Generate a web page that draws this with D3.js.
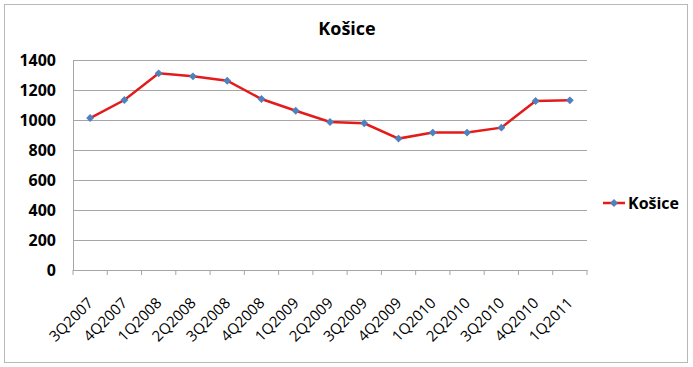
<!DOCTYPE html>
<html>
<head>
<meta charset="utf-8">
<script src="https://cdn.jsdelivr.net/npm/d3@7"></script>
<style>
  body { margin: 0; background: #fff; }
  svg { display: block; }
</style>
</head>
<body>
<svg id="chart" width="693" height="367"></svg>
<script>
// quarters on the x axis
var quarters = ['3Q2007', '4Q2007', '1Q2008', '2Q2008', '3Q2008', '4Q2008', '1Q2009', '2Q2009',
  '3Q2009', '4Q2009', '1Q2010', '2Q2010', '3Q2010', '4Q2010', '1Q2011'];
// Košice series
var kosice = [1013, 1133, 1311, 1291, 1262, 1140, 1062, 987, 978, 876, 916, 916, 949, 1127, 1131];
var yTicks = [0, 200, 400, 600, 800, 1000, 1200, 1400];
var seriesName = 'Košice';

var svg = d3.select('#chart');
var plotLeft = 73, plotRight = 587, plotTop = 60, plotBottom = 270;
var font = '"Open Sans", "Liberation Sans", sans-serif';

// outer border
svg.append('rect').attr('x', 4.5).attr('y', 4.5).attr('width', 683).attr('height', 358)
  .style('fill', 'none').style('stroke', '#b8b8b8');

svg.append('text').attr('x', 347).attr('y', 35).attr('text-anchor', 'middle')
  .style('font-family', font).style('font-weight', 'bold').style('font-size', '18px')
  .text('Košice');

var x = d3.scaleBand().domain(quarters).range([plotLeft, plotRight]);
var y = d3.scaleLinear().domain([0, 1400]).range([plotBottom, plotTop]);

// grid + y labels
var yAxis = svg.append('g').attr('transform', 'translate(' + plotLeft + ',0)')
  .call(d3.axisLeft(y).tickValues(yTicks).tickSize(6).tickSizeOuter(0).tickFormat(d3.format('d')));
yAxis.select('.domain').style('stroke', '#a6a6a6');
yAxis.selectAll('.tick line').attr('x2', plotRight - plotLeft).style('stroke', '#a6a6a6');
yAxis.selectAll('.tick text').attr('x', -17).attr('dy', '0.36em')
  .style('font-family', font).style('font-weight', 'bold').style('font-size', '16px').style('fill', '#000');

// x axis
var xAxis = svg.append('g').attr('transform', 'translate(0,' + plotBottom + ')')
  .call(d3.axisBottom(x).tickSize(5).tickSizeOuter(0));
xAxis.select('.domain').style('stroke', '#a6a6a6');
xAxis.selectAll('.tick line').attr('transform', 'translate(' + (-x.bandwidth() / 2) + ',0)').style('stroke', '#a6a6a6');
svg.append('line').attr('x1', plotRight).attr('x2', plotRight).attr('y1', plotBottom).attr('y2', plotBottom + 5)
  .style('stroke', '#a6a6a6');
xAxis.selectAll('.tick text')
  .attr('text-anchor', 'end').attr('y', 0).attr('dy', 0)
  .attr('transform', 'translate(4,34) rotate(-45)')
  .style('font-family', font).style('font-size', '15px').style('fill', '#000');

var cx = function(d, i) { return x(quarters[i]) + x.bandwidth() / 2; };
var line = d3.line().x(cx).y(function(d) { return y(d); });

svg.append('path').datum(kosice).attr('d', line)
  .style('fill', 'none').style('stroke', '#e31b1b').style('stroke-width', 2.5);

var diamond = d3.symbol().type(d3.symbolDiamond2).size(40);
svg.selectAll('path.pt').data(kosice).enter().append('path').attr('class', 'pt')
  .attr('d', diamond)
  .attr('transform', function(d, i) { return 'translate(' + cx(d, i) + ',' + y(d) + ')'; })
  .style('fill', '#4f81bd');

// legend
var lg = svg.append('g').attr('transform', 'translate(603,203)');
lg.append('line').attr('x1', 0).attr('x2', 22).style('stroke', '#e31b1b').style('stroke-width', 2.5);
lg.append('path').attr('d', diamond).attr('transform', 'translate(11,0)').style('fill', '#4f81bd');
lg.append('text').attr('x', 25).attr('y', 6)
  .style('font-family', font).style('font-weight', 'bold').style('font-size', '16px')
  .text(seriesName);
</script>
</body>
</html>
